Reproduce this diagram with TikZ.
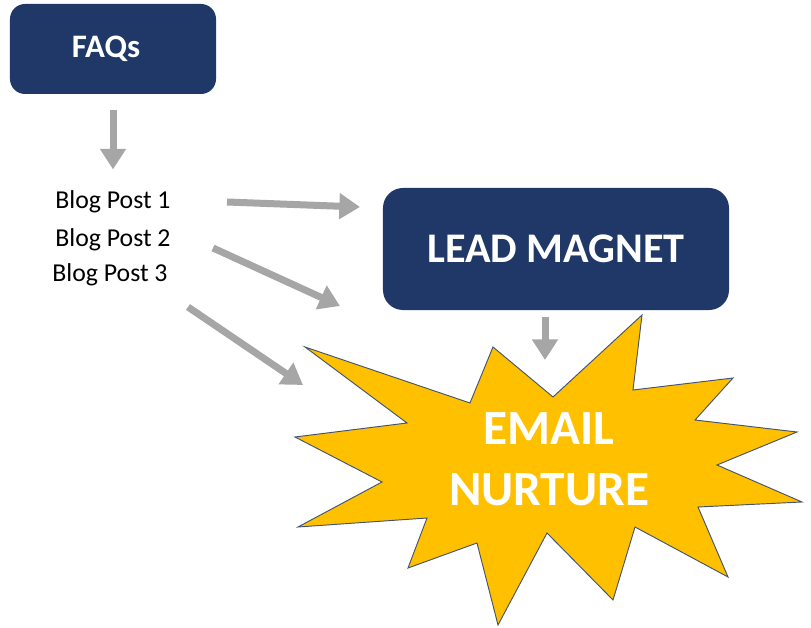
\documentclass[tikz,border=0pt]{standalone}
\usepackage{fontspec}
\setmainfont{Carlito}
\usetikzlibrary{arrows.meta}

\definecolor{navy}{RGB}{31,56,104}
\definecolor{arrowgray}{RGB}{166,166,166}
\definecolor{burst}{RGB}{255,192,0}
\definecolor{burstline}{RGB}{68,84,110}

\tikzset{
  box/.style={draw=none, fill=navy, text=white, inner sep=0pt},
  post/.style={inner sep=1pt, font=\fontsize{22}{25}\selectfont},
  flow/.style={draw=arrowgray, line width=0.21cm, -{Triangle[width=0.75cm,length=0.62cm]}},
}

\begin{document}
\begin{tikzpicture}[x=0.03cm, y=-0.03cm]
\useasboundingbox (0,0) rectangle (811,628);

%starburst
\draw[fill=burst, draw=burstline, line width=0.8pt, line join=miter]
  (305,347) -- (470,403) -- (493,347) -- (553,397) -- (642,315) -- (633,390)
  -- (733,378) -- (695,420) -- (797,432) -- (717,465) -- (802,502) -- (698,507)
  -- (728,577) -- (635,527) -- (613,600) -- (547,533) -- (498,625) -- (477,543)
  -- (408,568) -- (427,518) -- (298,527) -- (382,482) -- (295,437) -- (407,423)
  -- cycle;
\node[text=white, align=center, font=\fontsize{42}{52}\selectfont\bfseries] (nurture) at (549,459) {EMAIL\\NURTURE};

%boxes
\node[box, rounded corners=0.45cm, minimum width=6.18cm, minimum height=2.7cm,
  label={[text=white, font=\fontsize{28}{32}\selectfont\bfseries, xshift=-0.21cm]center:FAQs}] (faqs) at (113,49) {};
\node[box, rounded corners=0.6cm, minimum width=10.38cm, minimum height=3.66cm,
  font=\fontsize{36}{42}\selectfont\bfseries] (lead) at (556,249) {LEAD MAGNET};

%blog posts
\node[post] (post1) at (113,202) {Blog Post 1};
\node[post] (post2) at (113,240) {Blog Post 2};
\node[post] (post3) at (110,275) {Blog Post 3};

%arrow ends
\coordinate (t1) at (227,202); \coordinate (h1) at (360,207);
\coordinate (t2) at (213,248); \coordinate (h2) at (340,306);
\coordinate (t3) at (188,307); \coordinate (h3) at (303,385);
\coordinate (t4) at (545,317); \coordinate (h4) at (545,360);

%arrows
\draw[flow, shorten <=0.48cm, shorten >=0.6cm] (faqs.south) -- (faqs.south |- post1.north);
\draw[flow] (t1) -- (h1);
\draw[flow] (t2) -- (h2);
\draw[flow] (t3) -- (h3);
\draw[flow] (t4) -- (h4);
\end{tikzpicture}
\end{document}
